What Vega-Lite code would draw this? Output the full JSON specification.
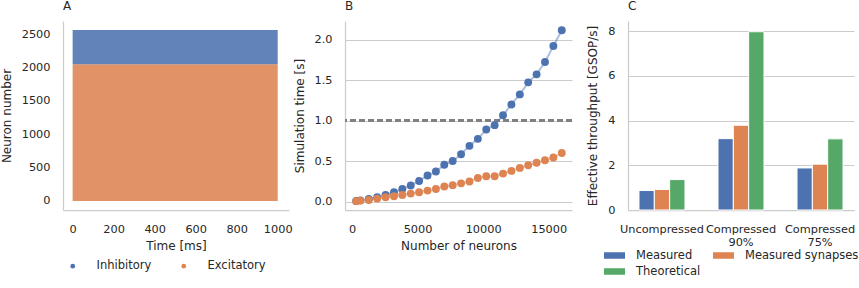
{
  "$schema": "https://vega.github.io/schema/vega-lite/v6.json",
  "padding": {"left": 0, "top": 0, "right": 0, "bottom": 0},
  "bounds": "flush",
  "spacing": 56,
  "resolve": {"scale": {"color": "independent"}, "legend": {"color": "independent"}},
  "config": {
    "font": "DejaVu Sans",
    "view": {"stroke": null},
    "axis": {
      "domainColor": "#cccccc", "domainWidth": 1.25,
      "gridColor": "#cccccc", "gridWidth": 1,
      "ticks": false, "labelPadding": 13,
      "labelFontSize": 11.3, "titleFontSize": 12, "titleFontWeight": "normal",
      "labelColor": "#262626", "titleColor": "#262626",
      "labelFont": "DejaVu Sans", "titleFont": "DejaVu Sans"
    },
    "axisX": {"titlePadding": 6},
    "axisY": {"titlePadding": 8},
    "legend": {"labelFontSize": 11.5, "labelColor": "#262626", "labelFont": "DejaVu Sans", "padding": 0, "titlePadding": 0},
    "title": {"anchor": "start", "frame": "group", "fontSize": 12, "fontWeight": "normal", "offset": 8, "color": "#262626", "font": "DejaVu Sans"}
  },
  "hconcat": [
    {
      "width": 226, "height": 189,
      "title": "A",
      "data": {"values": [
        {"pop": "Excitatory", "t0": 0, "t1": 1000, "n0": 0, "n1": 2048},
        {"pop": "Inhibitory", "t0": 0, "t1": 1000, "n0": 2048, "n1": 2560}
      ]},
      "mark": {"type": "rect", "fillOpacity": 0.88},
      "encoding": {
        "x": {"field": "t0", "type": "quantitative", "scale": {"domain": [-47, 1055], "nice": false, "zero": false},
              "axis": {"title": "Time [ms]", "values": [0, 200, 400, 600, 800, 1000], "format": "d", "grid": false}},
        "x2": {"field": "t1"},
        "y": {"field": "n0", "type": "quantitative", "scale": {"domain": [-135, 2695], "nice": false, "zero": false},
              "axis": {"title": "Neuron number", "values": [0, 500, 1000, 1500, 2000, 2500], "format": "d", "grid": false}},
        "y2": {"field": "n1"},
        "color": {"field": "pop", "type": "nominal", "title": null,
                  "scale": {"domain": ["Inhibitory", "Excitatory"], "range": ["#4C72B0", "#DD8452"]},
                  "legend": {"orient": "none", "legendX": 4, "legendY": 239, "direction": "horizontal",
                             "symbolType": "circle", "symbolSize": 22, "symbolOpacity": 1, "labelOffset": 18, "columnPadding": 26}}
      }
    },
    {
      "width": 227, "height": 189,
      "title": "B",
      "data": {"values": [
        {"n": 320, "time": 0.008, "type": "Uncompressed"},
        {"n": 640, "time": 0.015, "type": "Uncompressed"},
        {"n": 1280, "time": 0.032, "type": "Uncompressed"},
        {"n": 1920, "time": 0.053, "type": "Uncompressed"},
        {"n": 2560, "time": 0.082, "type": "Uncompressed"},
        {"n": 3200, "time": 0.115, "type": "Uncompressed"},
        {"n": 3840, "time": 0.156, "type": "Uncompressed"},
        {"n": 4480, "time": 0.198, "type": "Uncompressed"},
        {"n": 5120, "time": 0.255, "type": "Uncompressed"},
        {"n": 5760, "time": 0.322, "type": "Uncompressed"},
        {"n": 6400, "time": 0.371, "type": "Uncompressed"},
        {"n": 7040, "time": 0.455, "type": "Uncompressed"},
        {"n": 7680, "time": 0.501, "type": "Uncompressed"},
        {"n": 8320, "time": 0.585, "type": "Uncompressed"},
        {"n": 8960, "time": 0.689, "type": "Uncompressed"},
        {"n": 9600, "time": 0.775, "type": "Uncompressed"},
        {"n": 10240, "time": 0.891, "type": "Uncompressed"},
        {"n": 10880, "time": 0.944, "type": "Uncompressed"},
        {"n": 11520, "time": 1.067, "type": "Uncompressed"},
        {"n": 12160, "time": 1.2, "type": "Uncompressed"},
        {"n": 12800, "time": 1.324, "type": "Uncompressed"},
        {"n": 13440, "time": 1.473, "type": "Uncompressed"},
        {"n": 14080, "time": 1.572, "type": "Uncompressed"},
        {"n": 14720, "time": 1.724, "type": "Uncompressed"},
        {"n": 15360, "time": 1.922, "type": "Uncompressed"},
        {"n": 16000, "time": 2.116, "type": "Uncompressed"},
        {"n": 320, "time": 0.005, "type": "Compressed"},
        {"n": 640, "time": 0.012, "type": "Compressed"},
        {"n": 1280, "time": 0.02, "type": "Compressed"},
        {"n": 1920, "time": 0.037, "type": "Compressed"},
        {"n": 2560, "time": 0.053, "type": "Compressed"},
        {"n": 3200, "time": 0.066, "type": "Compressed"},
        {"n": 3840, "time": 0.082, "type": "Compressed"},
        {"n": 4480, "time": 0.099, "type": "Compressed"},
        {"n": 5120, "time": 0.115, "type": "Compressed"},
        {"n": 5760, "time": 0.136, "type": "Compressed"},
        {"n": 6400, "time": 0.156, "type": "Compressed"},
        {"n": 7040, "time": 0.186, "type": "Compressed"},
        {"n": 7680, "time": 0.203, "type": "Compressed"},
        {"n": 8320, "time": 0.225, "type": "Compressed"},
        {"n": 8960, "time": 0.248, "type": "Compressed"},
        {"n": 9600, "time": 0.292, "type": "Compressed"},
        {"n": 10240, "time": 0.313, "type": "Compressed"},
        {"n": 10880, "time": 0.313, "type": "Compressed"},
        {"n": 11520, "time": 0.346, "type": "Compressed"},
        {"n": 12160, "time": 0.379, "type": "Compressed"},
        {"n": 12800, "time": 0.416, "type": "Compressed"},
        {"n": 13440, "time": 0.449, "type": "Compressed"},
        {"n": 14080, "time": 0.48, "type": "Compressed"},
        {"n": 14720, "time": 0.511, "type": "Compressed"},
        {"n": 15360, "time": 0.544, "type": "Compressed"},
        {"n": 16000, "time": 0.6, "type": "Compressed"}
      ]},
      "layer": [
        {
          "mark": {"type": "rule", "color": "#808080", "strokeWidth": 1.6, "strokeDash": [6, 3]},
          "encoding": {"y": {"datum": 1.0, "type": "quantitative"}}
        },
        {
          "mark": {"type": "line", "strokeWidth": 2, "opacity": 0.45},
          "encoding": {
            "x": {"field": "n", "type": "quantitative"},
            "y": {"field": "time", "type": "quantitative"},
            "color": {"field": "type", "type": "nominal", "legend": null},
            "detail": {"field": "type"}
          }
        },
        {
          "mark": {"type": "point", "filled": true, "size": 62, "opacity": 1},
          "encoding": {
            "x": {"field": "n", "type": "quantitative", "scale": {"domain": [-534, 16780], "nice": false, "zero": false},
                  "axis": {"title": "Number of neurons", "values": [0, 5000, 10000, 15000], "format": "d", "grid": false}},
            "y": {"field": "time", "type": "quantitative", "scale": {"domain": [-0.104, 2.231], "nice": false, "zero": false},
                  "axis": {"title": "Simulation time [s]", "values": [0, 0.5, 1, 1.5, 2], "format": ".1f", "grid": true}},
            "color": {"field": "type", "type": "nominal", "title": null,
                      "scale": {"domain": ["Uncompressed", "Compressed"], "range": ["#4C72B0", "#DD8452"]},
                      "legend": {"orient": "none", "legendX": -14, "legendY": 239, "direction": "horizontal",
                                 "symbolType": "circle", "symbolSize": 64, "labelOffset": 16, "columnPadding": 49}}
          }
        }
      ]
    },
    {
      "width": 226, "height": 189,
      "title": "C",
      "data": {"values": [
        {"cond": "Uncompressed", "kind": "Measured", "v": 0.87},
        {"cond": "Uncompressed", "kind": "Measured synapses", "v": 0.92},
        {"cond": "Uncompressed", "kind": "Theoretical", "v": 1.36},
        {"cond": "Compressed 90%", "kind": "Measured", "v": 3.19},
        {"cond": "Compressed 90%", "kind": "Measured synapses", "v": 3.79},
        {"cond": "Compressed 90%", "kind": "Theoretical", "v": 7.97},
        {"cond": "Compressed 75%", "kind": "Measured", "v": 1.88},
        {"cond": "Compressed 75%", "kind": "Measured synapses", "v": 2.05},
        {"cond": "Compressed 75%", "kind": "Theoretical", "v": 3.18}
      ]},
      "mark": {"type": "bar", "stroke": "white", "strokeWidth": 1},
      "encoding": {
        "x": {"field": "cond", "type": "nominal", "sort": ["Uncompressed", "Compressed 90%", "Compressed 75%"],
              "scale": {"paddingInner": 0.418, "paddingOuter": 0.139},
              "axis": {"title": null, "labelAngle": 0, "labelOverlap": false, "labelBound": false, "grid": false,
                       "labelLineHeight": 13.3,
                       "labelExpr": "datum.value == 'Uncompressed' ? datum.value : split(datum.value, ' ')"}},
        "xOffset": {"field": "kind", "type": "nominal", "sort": ["Measured", "Measured synapses", "Theoretical"], "scale": {"paddingInner": 0, "paddingOuter": 0}},
        "y": {"field": "v", "type": "quantitative", "scale": {"domain": [0, 8.45], "nice": false},
              "axis": {"title": "Effective throughput [GSOP/s]", "values": [0, 2, 4, 6, 8], "grid": true}},
        "color": {"field": "kind", "type": "nominal", "title": null,
                  "scale": {"domain": ["Measured", "Measured synapses", "Theoretical"], "range": ["#4C72B0", "#DD8452", "#55A868"]},
                  "legend": {"orient": "none", "legendX": -24, "legendY": 224, "columns": 2, "direction": "horizontal",
                             "symbolType": "M-1,-0.31H1V0.31H-1Z", "symbolSize": 441, "symbolStrokeWidth": 0,
                             "labelOffset": 11, "columnPadding": 12, "rowPadding": -4}}
      }
    }
  ]
}
